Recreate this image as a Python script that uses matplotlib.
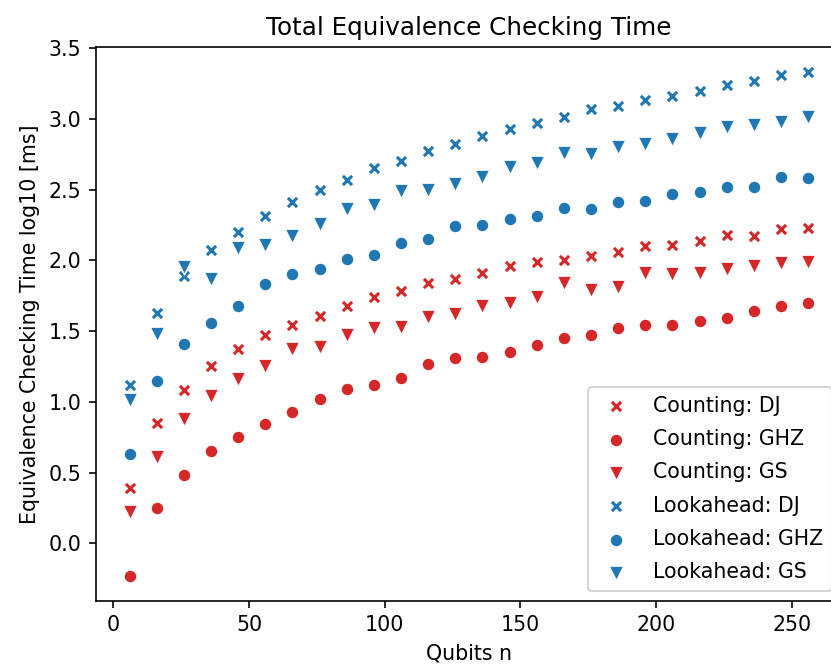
import matplotlib
matplotlib.use("Agg")
import matplotlib.pyplot as plt

# qubit counts on the x axis
qubits = list(range(6, 257, 10))

# log10 of the checking time in ms
counting_dj = [0.39, 0.85, 1.08, 1.25, 1.37, 1.47, 1.54, 1.61, 1.68, 1.74,
               1.78, 1.84, 1.87, 1.91, 1.96, 1.99, 2.00, 2.03, 2.06, 2.10,
               2.11, 2.14, 2.18, 2.17, 2.22, 2.23]
counting_ghz = [-0.23, 0.25, 0.48, 0.65, 0.75, 0.84, 0.93, 1.02, 1.09, 1.12,
                1.17, 1.27, 1.31, 1.32, 1.35, 1.40, 1.45, 1.47, 1.52, 1.54,
                1.54, 1.57, 1.59, 1.64, 1.68, 1.70]
counting_gs = [0.22, 0.61, 0.88, 1.04, 1.16, 1.25, 1.37, 1.39, 1.47, 1.52,
               1.53, 1.60, 1.62, 1.68, 1.70, 1.74, 1.84, 1.79, 1.81, 1.91,
               1.90, 1.91, 1.94, 1.96, 1.98, 1.99]
lookahead_dj = [1.12, 1.63, 1.89, 2.07, 2.20, 2.31, 2.41, 2.50, 2.57, 2.65,
                2.70, 2.77, 2.82, 2.88, 2.93, 2.97, 3.01, 3.07, 3.09, 3.13,
                3.16, 3.20, 3.24, 3.27, 3.31, 3.33]
lookahead_ghz = [0.63, 1.15, 1.41, 1.56, 1.68, 1.83, 1.90, 1.94, 2.01, 2.04,
                 2.12, 2.15, 2.24, 2.25, 2.29, 2.31, 2.37, 2.36, 2.41, 2.42,
                 2.47, 2.48, 2.52, 2.52, 2.59, 2.58]
lookahead_gs = [1.01, 1.48, 1.95, 1.87, 2.09, 2.11, 2.17, 2.26, 2.36, 2.39,
                2.49, 2.50, 2.54, 2.59, 2.66, 2.69, 2.76, 2.75, 2.80, 2.82,
                2.86, 2.90, 2.94, 2.96, 2.98, 3.01]

red = '#d62728'
blue = '#1f77b4'

fig = plt.figure(figsize=(831 / 148, 667 / 148), dpi=148)
ax = fig.add_axes([0.1152, 0.099, 0.898, 0.8305])

series = [
    ('Counting: DJ', counting_dj, red, 'x'),
    ('Counting: GHZ', counting_ghz, red, 'o'),
    ('Counting: GS', counting_gs, red, 'v'),
    ('Lookahead: DJ', lookahead_dj, blue, 'x'),
    ('Lookahead: GHZ', lookahead_ghz, blue, 'o'),
    ('Lookahead: GS', lookahead_gs, blue, 'v'),
]
for label, vals, color, marker in series:
    if marker == 'x':
        ax.scatter(qubits, vals, s=20, marker=marker, color=color,
                   linewidths=1.5, label=label)
    elif marker == 'v':
        ax.scatter(qubits, vals, s=52, marker=marker, color=color,
                   edgecolors='white', linewidths=0.75, label=label)
    else:
        ax.scatter(qubits, vals, s=40, marker=marker, color=color,
                   edgecolors='white', linewidths=0.75, label=label)

ax.set_title('Total Equivalence Checking Time', fontsize=12)
ax.set_xlabel('Qubits n')
ax.set_ylabel('Equivalence Checking Time log10 [ms]')
ax.legend(loc='lower right', labelspacing=0.65)

fig.savefig('out.png', dpi=148)
